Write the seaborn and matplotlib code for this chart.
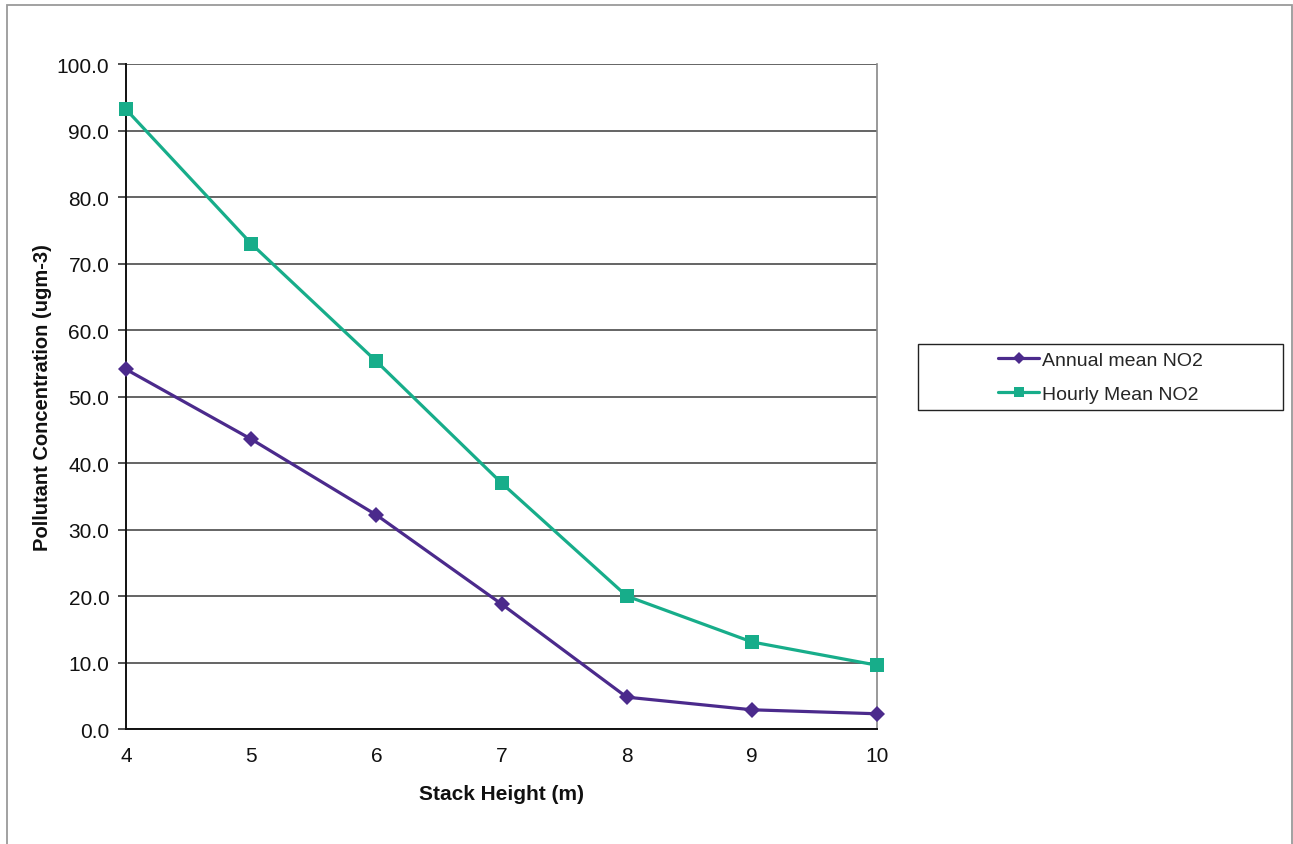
import matplotlib
matplotlib.use("Agg")
import matplotlib.pyplot as plt
import matplotlib.patches as mpatches
from matplotlib.lines import Line2D
import seaborn as sns
import pandas as pd

# Stack height (m) and modelled NO2 concentrations (ugm-3)
stack_height = [4, 5, 6, 7, 8, 9, 10]
annual_mean_no2 = [54.1, 43.6, 32.2, 18.8, 4.8, 2.9, 2.3]
hourly_mean_no2 = [93.2, 73.0, 55.3, 37.0, 20.0, 13.1, 9.6]
series_names = ["Annual mean NO2", "Hourly Mean NO2"]
y_ticks = [0, 10, 20, 30, 40, 50, 60, 70, 80, 90, 100]

df = pd.DataFrame({
    "height": stack_height * 2,
    "conc": annual_mean_no2 + hourly_mean_no2,
    "series": [series_names[0]] * len(stack_height) + [series_names[1]] * len(stack_height),
})

sns.set_theme(style="white")
plt.rcParams["font.family"] = ["Liberation Sans", "DejaVu Sans"]

fig = plt.figure(figsize=(12.93, 8.45), dpi=100)
ax = fig.add_axes([0.0974, 0.136, 0.581, 0.787])

colors = {series_names[0]: "#4B2A8C", series_names[1]: "#17AD8A"}
markers = {series_names[0]: "D", series_names[1]: "s"}
sizes = {series_names[0]: 8.5, series_names[1]: 10}

for name in series_names:
    sub = df[df["series"] == name]
    sns.lineplot(data=sub, x="height", y="conc", color=colors[name],
                 marker=markers[name], markersize=sizes[name], markeredgewidth=0,
                 linewidth=2.3, ax=ax, legend=False, clip_on=False, zorder=3)

ax.set_xlim(4, 10)
ax.set_ylim(0, 100)
ax.set_xticks(stack_height)
ax.set_xticklabels([str(v) for v in stack_height])
ax.set_yticks(y_ticks)
ax.set_yticklabels([f"{v:.1f}" for v in y_ticks])
ax.yaxis.grid(True, color="#3a3a3a", linewidth=1.1)
ax.xaxis.grid(False)
ax.set_axisbelow(True)

ax.tick_params(axis="y", which="both", left=True, length=6, width=1.1,
               color="#222222", labelsize=15, pad=6, labelcolor="#111111")
ax.tick_params(axis="x", bottom=False, labelsize=15, pad=6, labelcolor="#111111")

for side in ["left", "bottom"]:
    ax.spines[side].set_color("#111111")
    ax.spines[side].set_linewidth(1.4)
ax.spines["top"].set_visible(False)
ax.spines["right"].set_color("#888888")
ax.spines["right"].set_linewidth(1.2)

ax.set_xlabel("Stack Height (m)", fontsize=15, fontweight="bold", labelpad=14, color="#111111")
ax.set_ylabel("Pollutant Concentration (ugm-3)", fontsize=14.5, fontweight="bold", labelpad=3, color="#111111")

# legend: boxed panel to the right of the plot
box_l, box_r = 918 / 1293, 1283 / 1293
box_t, box_b = 1 - 345 / 845, 1 - 411 / 845
fig.patches.append(mpatches.Rectangle((box_l, box_b), box_r - box_l, box_t - box_b,
                                      transform=fig.transFigure, fill=False,
                                      edgecolor="#222222", linewidth=1.0))
handles = [Line2D([], [], color=colors[n], marker=markers[n], linewidth=2.3,
                  markersize=sizes[n] * 0.7, markeredgewidth=0) for n in series_names]
leg = fig.legend(handles, series_names, loc="center",
                 bbox_to_anchor=((box_l + box_r) / 2, (box_t + box_b) / 2),
                 frameon=False, fontsize=14, handlelength=2.1,
                 handletextpad=0.15, labelspacing=0.85, borderpad=0)

# outer chart border
fig.patches.append(mpatches.Rectangle((7 / 1293, -0.01), 1285 / 1293, 1 - 6 / 845 + 0.01,
                                      transform=fig.transFigure, fill=False,
                                      edgecolor="#9a9a9a", linewidth=1.3))

fig.savefig("out.png", dpi=100)
